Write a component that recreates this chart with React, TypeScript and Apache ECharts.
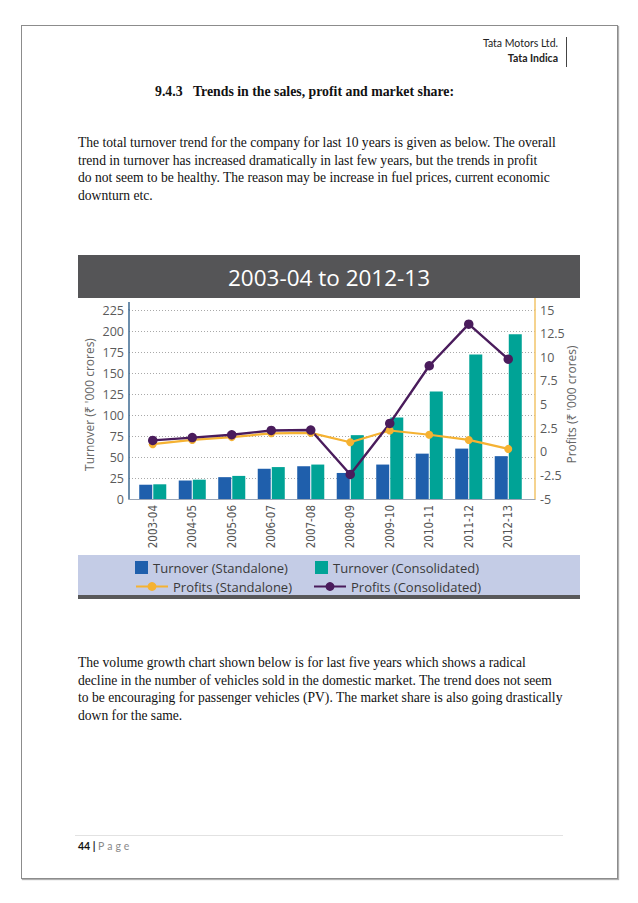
import React, { useEffect, useRef } from "react";
import * as echarts from "echarts";

const categories = ["2003-04", "2004-05", "2005-06", "2006-07", "2007-08", "2008-09", "2009-10", "2010-11", "2011-12", "2012-13"];
const turnoverStandalone = [17, 22, 26, 36, 39, 31, 41, 54, 60, 51];
const turnoverConsolidated = [17.5, 23, 27.5, 38, 41, 76, 97, 128, 172, 196];
const profitsStandalone = [0.8, 1.25, 1.55, 1.95, 2.0, 1.0, 2.25, 1.8, 1.25, 0.3];
const profitsConsolidated = [1.2, 1.5, 1.8, 2.25, 2.3, -2.4, 3.0, 9.1, 13.5, 9.8];
const turnoverAxis = { min: 0, max: 225, interval: 25 };
const profitAxis = { min: -5, max: 15, interval: 2.5 };

const para1 = [
  "The total turnover trend for the company for last 10 years is given as below. The overall",
  "trend in turnover has increased dramatically in last few years, but the trends in profit",
  "do not seem to be healthy. The reason may be increase in fuel prices, current economic",
  "downturn etc.",
];
const para2 = [
  "The volume growth chart shown below is for last five years which shows a radical",
  "decline in the number of vehicles sold in the domestic market. The trend does not seem",
  "to be encouraging for passenger vehicles (PV). The market share is also going drastically",
  "down for the same.",
];

const serif = "'Liberation Serif', 'DejaVu Serif', serif";
const sans = "'Open Sans', 'Noto Sans', sans-serif";

function Chart() {
  const ref = useRef<HTMLDivElement>(null);
  useEffect(() => {
    if (!ref.current) return;
    const chart = echarts.init(ref.current, undefined, { renderer: "svg" });
    const legendText = { fontFamily: sans, fontSize: 13, color: "#3a3a3a" };
    const axisLabel = { fontFamily: sans, fontSize: 12.5, color: "#5a5a5a", margin: 5 };
    chart.setOption({
      animation: false,
      backgroundColor: "#ffffff",
      graphic: [
        { type: "rect", shape: { x: 0, y: 0, width: 502, height: 43 }, style: { fill: "#555557" } },
        {
          type: "text",
          x: 251,
          y: 22,
          style: { text: "2003-04 to 2012-13", fill: "#ffffff", font: `22.5px ${sans}`, align: "center", verticalAlign: "middle" },
        },
        { type: "rect", shape: { x: 0, y: 300, width: 502, height: 40 }, style: { fill: "#c4cce6" } },
        { type: "rect", shape: { x: 0, y: 340, width: 502, height: 4 }, style: { fill: "#58585a" } },
        { type: "line", shape: { x1: 51, y1: 47, x2: 51, y2: 55 }, style: { stroke: "#3d6a92", lineWidth: 1.5 } },
        { type: "line", shape: { x1: 457, y1: 43, x2: 457, y2: 55 }, style: { stroke: "#f2c46a", lineWidth: 1.5 } },
      ],
      grid: [
        { left: 51, top: 55, width: 406, height: 189, containLabel: false, outerBoundsMode: "none" },
        { left: 55, top: 55, width: 395, height: 189, containLabel: false, outerBoundsMode: "none" },
      ],
      legend: [
        { data: ["Turnover (Standalone)"], left: 57, top: 306, padding: 0, icon: "rect", itemWidth: 13, itemHeight: 13, textStyle: legendText },
        { data: ["Turnover (Consolidated)"], left: 237, top: 306, padding: 0, icon: "rect", itemWidth: 13, itemHeight: 13, textStyle: legendText },
        { data: ["Profits (Standalone)"], left: 57, top: 325, padding: 0, itemWidth: 32, itemHeight: 11, textStyle: legendText },
        { data: ["Profits (Consolidated)"], left: 235, top: 325, padding: 0, itemWidth: 32, itemHeight: 11, textStyle: legendText },
      ],
      xAxis: [
        {
          type: "category",
          gridIndex: 0,
          data: categories,
          axisLine: { show: true, lineStyle: { color: "#9aa5b5", width: 1 } },
          axisTick: { show: false },
          axisLabel: { show: false },
        },
        {
          type: "category",
          gridIndex: 1,
          data: categories,
          axisLine: { show: false },
          axisTick: { show: false },
          axisLabel: { rotate: 90, fontSize: 11.5, color: "#555", fontFamily: "'Liberation Sans Narrow', 'DejaVu Sans Condensed', sans-serif", margin: 6 },
        },
      ],
      yAxis: [
        {
          type: "value",
          gridIndex: 0,
          position: "left",
          ...turnoverAxis,
          name: "Turnover (₹ '000 crores)",
          nameLocation: "middle",
          nameGap: 34,
          nameRotate: 90,
          nameMoveOverlap: false,
          nameTextStyle: { fontFamily: sans, fontSize: 12, color: "#666" },
          axisLine: { show: true, lineStyle: { color: "#3d6a92", width: 1.5 } },
          axisTick: { show: false },
          axisLabel,
          splitLine: { show: true, lineStyle: { color: "#a9a9a9", type: [1, 2], width: 1 } },
        },
        {
          type: "value",
          gridIndex: 0,
          position: "right",
          ...profitAxis,
          name: "Profits (₹ '000 crores)",
          nameLocation: "middle",
          nameGap: 30,
          nameRotate: 90,
          nameMoveOverlap: false,
          nameTextStyle: { fontFamily: sans, fontSize: 12, color: "#666" },
          axisLine: { show: true, lineStyle: { color: "#f2c46a", width: 1.5 } },
          axisTick: { show: false },
          axisLabel,
          splitLine: { show: false },
        },
        { type: "value", gridIndex: 1, show: false, ...turnoverAxis, splitLine: { show: false } },
        { type: "value", gridIndex: 1, show: false, ...profitAxis, splitLine: { show: false } },
      ],
      series: [
        { name: "Turnover (Standalone)", type: "bar", xAxisIndex: 1, yAxisIndex: 2, data: turnoverStandalone, barWidth: 13, barGap: "8%", itemStyle: { color: "#1f5fac" } },
        { name: "Turnover (Consolidated)", type: "bar", xAxisIndex: 1, yAxisIndex: 2, data: turnoverConsolidated, barWidth: 13, barGap: "8%", itemStyle: { color: "#00a396" } },
        {
          name: "Profits (Standalone)",
          type: "line",
          xAxisIndex: 1,
          yAxisIndex: 3,
          data: profitsStandalone,
          symbol: "circle",
          symbolSize: 8,
          lineStyle: { color: "#f5b232", width: 2.2 },
          itemStyle: { color: "#f5b232" },
        },
        {
          name: "Profits (Consolidated)",
          type: "line",
          xAxisIndex: 1,
          yAxisIndex: 3,
          data: profitsConsolidated,
          symbol: "circle",
          symbolSize: 9.5,
          lineStyle: { color: "#4a1c5c", width: 2.4 },
          itemStyle: { color: "#4a1c5c" },
        },
      ],
    });
    return () => chart.dispose();
  }, []);
  return <div ref={ref} style={{ position: "absolute", left: 78, top: 255, width: 502, height: 344 }} />;
}

export default function App() {
  const lineStyle: React.CSSProperties = { whiteSpace: "nowrap", height: 17.5, lineHeight: "17.5px" };
  return (
    <div style={{ position: "absolute", left: 0, top: 0, width: 638, height: 903, background: "#fff", overflow: "hidden", fontFamily: serif, color: "#111" }}>
      <div style={{ position: "absolute", left: 21, top: 25, width: 595, height: 852, border: "1px solid #8c8c8c", boxShadow: "1px 1px 1px #b0b0b0" }} />
      <div style={{ position: "absolute", right: 80, top: 36, textAlign: "right", fontFamily: "Lato, 'Open Sans', sans-serif", fontSize: 10.5, lineHeight: "15px", color: "#222" }}>
        <div>Tata Motors Ltd.</div>
        <div style={{ fontWeight: 700 }}>Tata Indica</div>
      </div>
      <div style={{ position: "absolute", left: 566, top: 37, width: 1, height: 30, background: "#444" }} />
      <div style={{ position: "absolute", left: 155, top: 84, fontWeight: 700, fontSize: 13.8, whiteSpace: "nowrap" }}>
        9.4.3&nbsp;&nbsp;&nbsp;Trends in the sales, profit and market share:
      </div>
      <div style={{ position: "absolute", left: 78, top: 134, fontSize: 13.6 }}>
        {para1.map((t, i) => (
          <div key={i} style={lineStyle}>{t}</div>
        ))}
      </div>
      <Chart />
      <div style={{ position: "absolute", left: 78, top: 654, fontSize: 13.6 }}>
        {para2.map((t, i) => (
          <div key={i} style={lineStyle}>{t}</div>
        ))}
      </div>
      <div style={{ position: "absolute", left: 75, top: 835, width: 488, height: 1, background: "#e2e2e2" }} />
      <div style={{ position: "absolute", left: 78, top: 840, fontFamily: "Lato, 'Open Sans', sans-serif", fontSize: 10.5, whiteSpace: "nowrap" }}>
        <span style={{ fontWeight: 700 }}>44</span>
        <span style={{ fontWeight: 700 }}> | </span>
        <span style={{ color: "#8a8a8a", letterSpacing: 3 }}>Page</span>
      </div>
    </div>
  );
}
